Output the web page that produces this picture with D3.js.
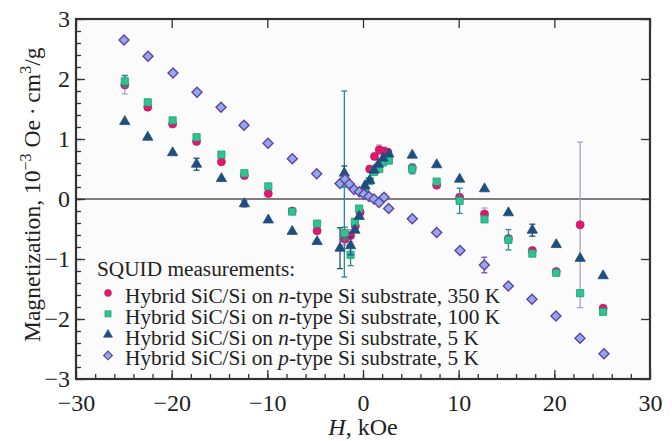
<!DOCTYPE html>
<html>
<head>
<meta charset="utf-8">
<title>SQUID magnetization</title>
<style>
  body { margin: 0; background: #fff; }
  svg text { font-family: "Liberation Serif", "DejaVu Serif", serif !important; fill: #222; }
</style>
</head>
<body>
<script src="https://d3js.org/d3.v7.min.js"></script>
<script>
// n-type, 350 K (circles)
var h350 = [-24.9, -22.5, -19.9, -17.4, -14.8, -12.4, -9.9, -7.4, -4.8, -1.9, -1.3, -0.8, -0.3, 0.2, 0.7, 1.2, 1.7, 2.2, 2.6, 5.15, 7.7, 10.1, 12.7, 15.2, 17.7, 20.2, 22.7, 25.1];
var m350 = [1.90, 1.53, 1.25, 0.96, 0.62, 0.39, 0.09, -0.20, -0.53, -0.67, -0.61, -0.45, -0.22, 0.15, 0.50, 0.71, 0.82, 0.80, 0.78, 0.52, 0.23, 0.03, -0.25, -0.66, -0.86, -1.21, -0.43, -1.82];
var e350 = [0.15, 0.05, 0, 0, 0, 0, 0, 0, 0, 0.1, 0.1, 0, 0, 0, 0, 0, 0.08, 0.06, 0, 0, 0, 0, 0.1, 0, 0, 0, 1.38, 0];

// n-type, 100 K (squares)
var h100 = [-24.9, -22.5, -19.9, -17.4, -14.8, -12.4, -9.9, -7.4, -4.8, -1.95, -1.9, -1.3, -0.85, -0.4, 0.2, 0.7, 1.15, 1.7, 2.1, 2.7, 5.15, 7.7, 10.1, 12.7, 15.2, 17.7, 20.2, 22.7, 25.1];
var m100 = [1.96, 1.61, 1.31, 1.03, 0.74, 0.43, 0.21, -0.21, -0.41, 0.25, -0.57, -0.93, -0.38, -0.16, 0.10, 0.30, 0.45, 0.50, 0.61, 0.64, 0.50, 0.29, -0.03, -0.34, -0.68, -0.91, -1.23, -1.57, -1.88];
var e100 = [0.1, 0.05, 0.04, 0.04, 0.04, 0.04, 0.04, 0.04, 0, 1.55, 0.1, 0.18, 0.05, 0, 0, 0, 0, 0, 0, 0, 0.08, 0.04, 0.21, 0.04, 0.17, 0.04, 0.04, 0.04, 0.04];

// n-type, 5 K (triangles)
var h5n = [-24.9, -22.5, -19.9, -17.4, -14.8, -12.4, -9.9, -7.4, -4.8, -2.4, -1.95, -1.3, -0.85, -0.4, 0.2, 0.7, 1.15, 1.6, 2.1, 2.7, 5.15, 7.7, 10.1, 12.7, 15.2, 17.7, 20.2, 22.7, 25.1];
var m5n = [1.29, 1.03, 0.77, 0.58, 0.34, -0.08, -0.35, -0.54, -0.71, -0.82, 0.43, -0.78, -0.52, -0.29, 0.22, 0.31, 0.48, 0.58, 0.68, 0.75, 0.73, 0.57, 0.33, 0.17, -0.23, -0.52, -0.76, -0.99, -1.28];
var e5n = [0, 0, 0, 0.1, 0, 0.05, 0, 0, 0, 0.34, 0.12, 0.15, 0, 0, 0, 0, 0, 0, 0, 0, 0, 0, 0, 0, 0, 0.1, 0, 0, 0];

// p-type, 5 K (diamonds)
var h5p = [-24.98, -22.47, -19.86, -17.35, -14.84, -12.44, -9.93, -7.39, -4.84, -2.4, -1.88, -1.43, -0.94, -0.38, 0.1, 0.63, 1.15, 1.67, 2.2, 2.68, 5.15, 7.7, 10.14, 12.68, 15.19, 17.66, 20.17, 22.68, 25.19];
var m5p = [2.65, 2.38, 2.10, 1.78, 1.53, 1.23, 0.93, 0.67, 0.42, 0.26, 0.33, 0.25, 0.16, 0.12, 0.08, 0.04, 0.0, -0.06, 0.03, -0.16, -0.33, -0.56, -0.86, -1.10, -1.45, -1.67, -1.95, -2.32, -2.58];
var e5p = [0, 0, 0.04, 0, 0, 0, 0, 0, 0, 0, 0.06, 0, 0, 0, 0, 0, 0, 0, 0.05, 0, 0, 0, 0, 0.13, 0, 0, 0, 0, 0];

var xTicks = [-30, -20, -10, 0, 10, 20, 30];
var yTicks = [-3, -2, -1, 0, 1, 2, 3];
var legendTitle = "SQUID measurements:";
var legendNames = [
  ["Hybrid SiC/Si on ", "n", "-type Si substrate, 350 K"],
  ["Hybrid SiC/Si on ", "n", "-type Si substrate, 100 K"],
  ["Hybrid SiC/Si on ", "n", "-type Si substrate, 5 K"],
  ["Hybrid SiC/Si on ", "p", "-type Si substrate, 5 K"]
];

var width = 672, height = 441;
var serif = "'Liberation Serif', 'DejaVu Serif', serif";
var x = d3.scaleLinear().domain([-30, 30]).range([76, 650]);
var y = d3.scaleLinear().domain([-3, 3]).range([379, 19]);

var svg = d3.select("body").append("svg")
  .attr("width", width).attr("height", height)
  .attr("font-family", serif);

svg.append("rect")
  .attr("x", x(-30)).attr("y", y(3))
  .attr("width", x(30) - x(-30)).attr("height", y(-3) - y(3))
  .attr("fill", "#fbfbfb");

// zero line
svg.append("line")
  .attr("x1", x(-30)).attr("x2", x(30))
  .attr("y1", y(0)).attr("y2", y(0))
  .attr("stroke", "#555").attr("stroke-width", 1.6);

var fmt = function(d) { return d < 0 ? "\u2212" + Math.abs(d) : "" + d; };

function styleAxis(g, noText) {
  g.attr("font-family", serif);
  g.select(".domain").remove();
  g.selectAll(".tick line").attr("stroke", "#333").attr("stroke-width", 1.3);
  g.selectAll("text").style("font-size", "24px").attr("fill", "#222");
  if (noText) g.selectAll("text").remove();
}

// minor ticks
svg.append("g").attr("transform", "translate(0," + y(-3) + ")")
  .call(d3.axisBottom(x).tickValues(d3.range(-28, 30, 2)).tickSize(-5).tickFormat(""))
  .call(styleAxis, true);
svg.append("g").attr("transform", "translate(" + x(-30) + ",0)")
  .call(d3.axisLeft(y).tickValues(d3.range(-2.8, 3, 0.2)).tickSize(-5).tickFormat(""))
  .call(styleAxis, true);

// major ticks
svg.append("g").attr("transform", "translate(0," + y(-3) + ")")
  .call(d3.axisBottom(x).tickValues(xTicks).tickSize(-9).tickPadding(15).tickFormat(fmt))
  .call(styleAxis);
svg.append("g").attr("transform", "translate(" + x(-30) + ",0)")
  .call(d3.axisLeft(y).tickValues(yTicks).tickSize(-9).tickPadding(6).tickFormat(fmt))
  .call(styleAxis);
svg.append("g").attr("transform", "translate(0," + y(3) + ")")
  .call(d3.axisTop(x).tickValues(xTicks).tickSize(-9).tickFormat(""))
  .call(styleAxis, true);
svg.append("g").attr("transform", "translate(" + x(30) + ",0)")
  .call(d3.axisRight(y).tickValues(yTicks).tickSize(-9).tickFormat(""))
  .call(styleAxis, true);

// frame
svg.append("rect")
  .attr("x", x(-30)).attr("y", y(3))
  .attr("width", x(30) - x(-30)).attr("height", y(-3) - y(3))
  .attr("fill", "none").attr("stroke", "#333").attr("stroke-width", 2.2);

var series = [
  { h: h350, m: m350, e: e350, shape: d3.symbolCircle, size: 50, rot: 0, fill: "#e2186e", stroke: "#c41463", ebar: "#aaa3c2" },
  { h: h100, m: m100, e: e100, shape: d3.symbolSquare, size: 52, rot: 0, fill: "#2fc48c", stroke: "#1f9c86", ebar: "#2b8a8e" },
  { h: h5n, m: m5n, e: e5n, shape: d3.symbolTriangle, size: 46, rot: 0, fill: "#1f4e7d", stroke: "#1f4e7d", ebar: "#1f4e7d" },
  { h: h5p, m: m5p, e: e5p, shape: d3.symbolSquare, size: 50, rot: 45, fill: "#8eacea", stroke: "#6a3fa3", ebar: "#7a50a8" }
];

series.forEach(function(s) {
  var pts = s.h.map(function(h, i) { return { h: h, m: s.m[i], e: s.e[i] }; });
  var g = svg.append("g");
  var eb = g.selectAll(".eb").data(pts.filter(function(d) { return d.e > 0; })).enter().append("g")
    .attr("stroke", s.ebar).attr("stroke-width", 1.3);
  eb.append("line")
    .attr("x1", function(d) { return x(d.h); }).attr("x2", function(d) { return x(d.h); })
    .attr("y1", function(d) { return y(d.m + d.e); }).attr("y2", function(d) { return y(d.m - d.e); });
  eb.append("line")
    .attr("x1", function(d) { return x(d.h) - 3; }).attr("x2", function(d) { return x(d.h) + 3; })
    .attr("y1", function(d) { return y(d.m + d.e); }).attr("y2", function(d) { return y(d.m + d.e); });
  eb.append("line")
    .attr("x1", function(d) { return x(d.h) - 3; }).attr("x2", function(d) { return x(d.h) + 3; })
    .attr("y1", function(d) { return y(d.m - d.e); }).attr("y2", function(d) { return y(d.m - d.e); });
  g.selectAll(".pt").data(pts).enter().append("path")
    .attr("d", d3.symbol().type(s.shape).size(s.size))
    .attr("transform", function(d) { return "translate(" + x(d.h) + "," + y(d.m) + ") rotate(" + s.rot + ")"; })
    .attr("fill", s.fill).attr("stroke", s.stroke).attr("stroke-width", s.rot ? 1.4 : 0.8);
});

// legend
var leg = svg.append("g");
leg.append("text").attr("x", 97).attr("y", 276).style("font-size", "21.3px").text(legendTitle);
legendNames.forEach(function(parts, i) {
  var s = series[i];
  var yy = 303 + i * 20.8;
  leg.append("path")
    .attr("d", d3.symbol().type(s.shape).size(s.size * 0.75))
    .attr("transform", "translate(108," + (yy - 10) + ") rotate(" + s.rot + ")")
    .attr("fill", s.fill).attr("stroke", s.stroke).attr("stroke-width", s.rot ? 1.2 : 0.6);
  var t = leg.append("text").attr("x", 125).attr("y", yy).style("font-size", "21.3px");
  t.append("tspan").text(parts[0]);
  t.append("tspan").style("font-style", "italic").text(parts[1]);
  t.append("tspan").text(parts[2]);
});

// axis titles
var xt = svg.append("text").attr("x", x(0)).attr("y", 435)
  .attr("text-anchor", "middle").style("font-size", "24px");
xt.append("tspan").style("font-style", "italic").text("H");
xt.append("tspan").text(", kOe");

var yt = svg.append("text")
  .attr("transform", "translate(40," + y(0.07) + ") rotate(-90)")
  .attr("text-anchor", "middle").style("font-size", "23.6px");
yt.append("tspan").text("Magnetization, 10");
yt.append("tspan").attr("dy", -9).style("font-size", "16px").text("\u22123");
yt.append("tspan").attr("dy", 9).text(" Oe\u2009\u00b7\u2009cm");
yt.append("tspan").attr("dy", -9).style("font-size", "16px").text("3");
yt.append("tspan").attr("dy", 9).text("/g");
</script>
</body>
</html>
